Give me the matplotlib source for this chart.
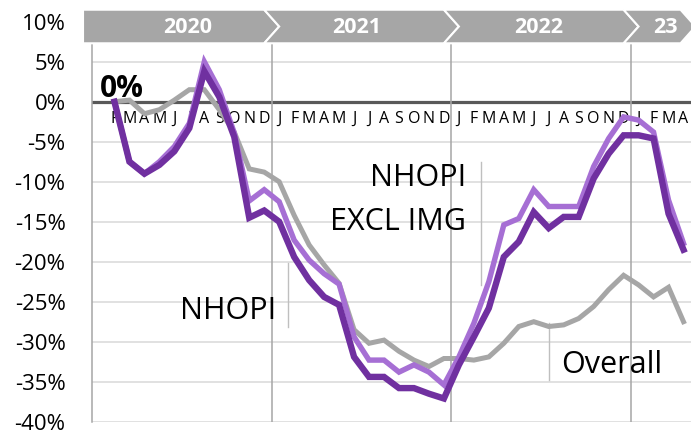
import matplotlib
matplotlib.use("Agg")
import matplotlib.pyplot as plt
from matplotlib import font_manager
from matplotlib.patches import Polygon

# monthly change vs Jan 2020, Feb 2020 .. Apr 2023
months = ["F", "M", "A", "M", "J", "J", "A", "S", "O", "N", "D",
          "J", "F", "M", "A", "M", "J", "J", "A", "S", "O", "N", "D",
          "J", "F", "M", "A", "M", "J", "J", "A", "S", "O", "N", "D",
          "J", "F", "M", "A"]
years = ["2020", "2021", "2022", "23"]

nhopi = [0, -7.5, -9.0, -7.9, -6.2, -3.3, 3.8, 0.6, -4.4, -14.5, -13.6,
         -15.0, -19.4, -22.3, -24.4, -25.4, -31.9, -34.4, -34.4, -35.8, -35.8, -36.5, -37.1,
         -32.9, -29.4, -25.8, -19.4, -17.5, -13.8, -15.8, -14.4, -14.4, -9.6, -6.5, -4.2,
         -4.2, -4.6, -14.0, -18.5]
nhopi_excl = [0, -7.5, -9.0, -7.5, -5.6, -2.7, 5.0, 1.5, -3.9, -12.4, -11.0,
              -12.5, -17.3, -19.8, -21.5, -22.8, -29.4, -32.3, -32.3, -33.8, -32.9, -33.8, -35.4,
              -31.9, -27.7, -22.5, -15.4, -14.6, -11.0, -13.1, -13.1, -13.1, -8.1, -4.6, -1.9,
              -2.3, -3.8, -12.3, -17.7]
overall = [0, 0.2, -1.5, -1.0, 0.2, 1.5, 1.5, -1.0, -3.8, -8.4, -8.8,
           -10.0, -14.2, -17.9, -20.4, -22.7, -28.5, -30.2, -29.8, -31.2, -32.3, -33.1, -32.1,
           -32.1, -32.3, -31.9, -30.2, -28.1, -27.5, -28.1, -27.9, -27.1, -25.6, -23.5, -21.7,
           -22.9, -24.4, -23.2, -27.5]

DARK = "#7030a0"
LIGHT = "#a66fd4"
GREY = "#a6a6a6"

names = {f.name for f in font_manager.fontManager.ttflist}
main_font = "Open Sans" if "Open Sans" in names else "DejaVu Sans"
if "Liberation Sans Narrow" in names:
    month_font, month_size = "Liberation Sans Narrow", 15
else:
    month_font, month_size = main_font, 11.5
plt.rcParams["font.family"] = [main_font, "DejaVu Sans"]

fig = plt.figure(figsize=(6.91, 4.30), dpi=100)
ax = fig.add_axes([92 / 691, 8.3 / 430, 599 / 691, 400 / 430])

x = list(range(1, len(months) + 1))   # 0 = Jan 2020

# grid
for v in range(-40, 10, 5):
    ax.axhline(v, color="#d9d9d9", linewidth=1.1, zorder=0)
ax.axhline(0, color="#595959", linewidth=2.3, zorder=1)

band_bot, band_top = 7.3, 11.5
for b in [11.5, 23.5, 35.5]:
    ax.plot([b, b], [-40, band_bot], color=GREY, linewidth=1.1, zorder=1)

# lines
ax.plot(x, overall, color=GREY, linewidth=3.6, zorder=3, solid_joinstyle="miter")
ax.plot(x, nhopi_excl, color=LIGHT, linewidth=3.9, zorder=4, solid_joinstyle="miter")
ax.plot(x, nhopi, color=DARK, linewidth=4.6, zorder=5, solid_joinstyle="miter")

# month letters
for xi, m in zip(x, months):
    ax.text(xi, -2.2, m, ha="center", va="center", fontsize=month_size,
            family=[month_font, "DejaVu Sans"], color="black", zorder=2)

ax.text(0.05, 0.6, "0%", fontsize=21.5, fontweight="bold", ha="left", va="baseline", zorder=6)

# year banner (chevrons)
d = 1.0
mid = (band_bot + band_top) / 2
edges = [-1.1, 11.0, 23.0, 35.0, 38.8]
for i in range(len(years)):
    l, r = edges[i], edges[i + 1]
    pts = [(l, band_top), (r, band_top), (r + d, mid), (r, band_bot), (l, band_bot)]
    if i > 0:
        pts.append((l + d, mid))
    ax.add_patch(Polygon(pts, closed=True, facecolor=GREY, edgecolor="white",
                         linewidth=1.5, clip_on=False, zorder=6))
year_x = [5.9, 17.2, 29.3, 37.8]
for yx, yr in zip(year_x, years):
    ax.text(yx, mid - 0.1, yr, color="white", fontsize=15.5, fontweight="bold",
            ha="center", va="center", zorder=7, clip_on=False)

# series labels with leader lines
lead = "#bfbfbf"
ax.text(8.6, -26.2, "NHOPI", fontsize=22, ha="center", va="center", zorder=6)
ax.plot([12.57, 12.57], [-20.2, -28.2], color=lead, linewidth=1, zorder=2)
ax.text(24.5, -9.5, "NHOPI", fontsize=22, ha="right", va="center", zorder=6)
ax.text(24.5, -15.0, "EXCL IMG", fontsize=22, ha="right", va="center", zorder=6)
ax.plot([25.5, 25.5], [-7.5, -22.9], color=lead, linewidth=1, zorder=2)
ax.text(30.83, -32.9, "Overall", fontsize=22, ha="left", va="center", zorder=6)
ax.plot([30.03, 30.03], [-27.7, -34.8], color=lead, linewidth=1, zorder=2)

ax.set_xlim(-0.5, 39.5)
ax.set_ylim(-40, 10)
ax.set_xticks([])
ax.set_yticks(range(-40, 15, 5))
ax.set_yticklabels([f"{v}%" for v in range(-40, 15, 5)], fontsize=16)
ax.tick_params(axis="y", length=0, pad=19)
for s in ["top", "right", "bottom"]:
    ax.spines[s].set_visible(False)
ax.spines["left"].set_bounds(-40, band_bot)
ax.spines["left"].set_color(GREY)
ax.spines["left"].set_linewidth(1.1)

fig.savefig("out.png", dpi=100)
